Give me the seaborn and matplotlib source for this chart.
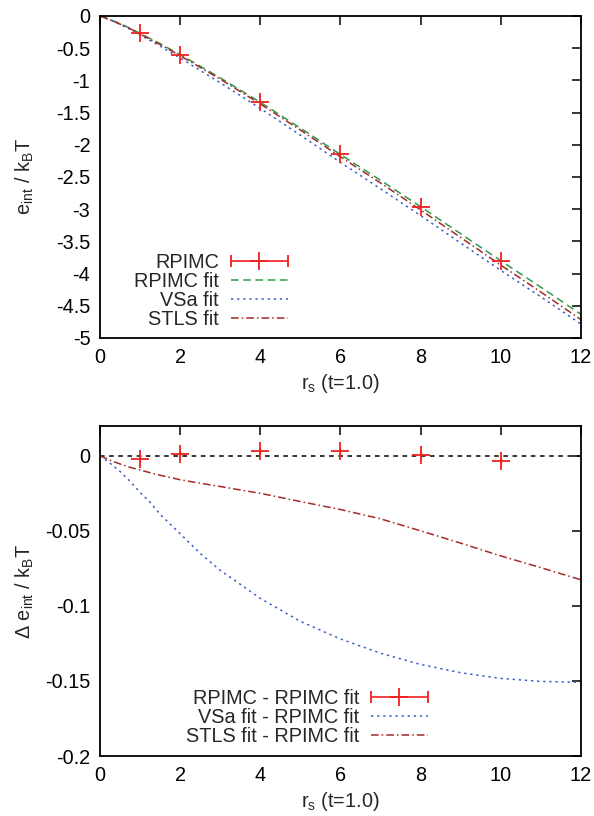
import numpy as np
import pandas as pd
import seaborn as sns
import matplotlib
matplotlib.use("Agg")
from matplotlib import pyplot as plt
from matplotlib.ticker import MultipleLocator, FuncFormatter
from matplotlib.container import ErrorbarContainer
from matplotlib.legend_handler import HandlerErrorbar

# RPIMC data points (t=1.0)
rs_points = [1, 2, 4, 6, 8, 10]
e_rpimc = [-0.27, -0.60, -1.34, -2.15, -2.96, -3.80]
e_rpimc_err = [0.002, 0.002, 0.002, 0.002, 0.002, 0.002]
de_rpimc = [-0.002, 0.001, 0.0033, 0.003, 0.0005, -0.0033]   # RPIMC - RPIMC fit

# fit curves, read on an rs grid
rs_grid = [0, 0.25, 0.5, 0.75, 1, 1.25, 1.5, 2, 2.5, 3, 3.5, 4, 5, 6, 7, 8, 9, 10, 11, 12]
e_rpimc_fit = [0, -0.055, -0.12, -0.19, -0.27, -0.35, -0.43, -0.60, -0.78, -0.96,
               -1.15, -1.34, -1.74, -2.15, -2.55, -2.96, -3.38, -3.80, -4.21, -4.63]
de_vsa = [0, -0.005, -0.0105, -0.017, -0.0245, -0.031, -0.039, -0.052, -0.065, -0.0763,
          -0.0856, -0.095, -0.1103, -0.122, -0.1315, -0.139, -0.1445, -0.1483, -0.1503, -0.1509]
de_stls = [0, -0.003, -0.0055, -0.0077, -0.0095, -0.0113, -0.013, -0.016, -0.0183, -0.0205,
           -0.0228, -0.025, -0.0305, -0.0358, -0.042, -0.050, -0.0582, -0.0667, -0.0745, -0.0826]

RED = "#f02020"
GREEN = "#2f9a4c"
BLUE = "#3c5fc8"
BROWN = "#a52a2a"
FS = 14.3


def style_axes(ax):
    ax.set_xlim(0, 12)
    ax.xaxis.set_major_locator(MultipleLocator(2))
    ax.tick_params(direction="in", length=6.5, width=1.1, top=True, right=True,
                   labelsize=FS, pad=7, colors="black")
    ax.xaxis.set_major_formatter(FuncFormatter(lambda v, p: f"{v:g}"))
    ax.yaxis.set_major_formatter(FuncFormatter(lambda v, p: f"{v:g}"))
    for s in ax.spines.values():
        s.set_linewidth(1.3)
        s.set_color("black")
    ax.set_xlabel(r"r$_s$ (t=1.0)", fontsize=FS, labelpad=4)
    ax.yaxis.set_label_coords(-0.133, 0.5)
    ax.grid(False)


def add_legend(ax, handles, labels, anchor_x, anchor_y):
    ax.legend(handles=handles, labels=labels,
              handler_map={ErrorbarContainer: HandlerErrorbar(xerr_size=1.43)},
              loc="lower right", bbox_to_anchor=(anchor_x, anchor_y), frameon=False,
              markerfirst=False, fontsize=FS, handlelength=2.86, handletextpad=0.6,
              labelspacing=0.0, borderpad=0, borderaxespad=0)


def main():
    sns.set_theme(style="white")
    plt.rcParams["font.family"] = ["Liberation Sans", "DejaVu Sans"]
    plt.rcParams["mathtext.default"] = "regular"
    plt.rcParams["axes.unicode_minus"] = False

    df = pd.DataFrame({
        "rs": rs_grid,
        "rpimc_fit": e_rpimc_fit,
        "vsa_fit": np.array(e_rpimc_fit) + np.array(de_vsa),
        "stls_fit": np.array(e_rpimc_fit) + np.array(de_stls),
        "d_vsa": de_vsa,
        "d_stls": de_stls,
    })

    fig = plt.figure(figsize=(5.94, 8.16), dpi=100)
    ax1 = fig.add_axes([0.1684, 0.5858, 0.8093, 0.3946])
    ax2 = fig.add_axes([0.1684, 0.0735, 0.8093, 0.4048])

    # top panel
    ax1.errorbar(rs_points, e_rpimc, yerr=e_rpimc_err, fmt="+", ms=13, mew=1.3,
                 color=RED, elinewidth=1.0, capsize=0, zorder=5)
    proxy1 = ax1.errorbar([np.nan], [np.nan], xerr=[1], fmt="+", ms=13, mew=1.3,
                          color=RED, elinewidth=1.2, capsize=4, label="RPIMC")
    sns.lineplot(data=df, x="rs", y="rpimc_fit", ax=ax1, color=GREEN, lw=1.1,
                 linestyle=(0, (5, 3)), label="RPIMC fit")
    sns.lineplot(data=df, x="rs", y="vsa_fit", ax=ax1, color=BLUE, lw=1.1,
                 linestyle=(0, (1.5, 2.5)), label="VSa fit")
    sns.lineplot(data=df, x="rs", y="stls_fit", ax=ax1, color=BROWN, lw=1.1,
                 linestyle=(0, (5, 2, 1, 2)), label="STLS fit")
    ax1.set_ylim(-5, 0)
    ax1.yaxis.set_major_locator(MultipleLocator(0.5))
    style_axes(ax1)
    ax1.set_ylabel(r"e$_{int}$ / k$_B$T", fontsize=FS)
    lines = ax1.get_lines()
    h1 = [proxy1] + [l for l in lines if l.get_label() in ("RPIMC fit", "VSa fit", "STLS fit")]
    add_legend(ax1, h1, ["RPIMC", "RPIMC fit", "VSa fit", "STLS fit"], 0.39, 0.028)

    # bottom panel
    ax2.axhline(0, color="black", lw=1.1, linestyle=(0, (3, 3)), zorder=1)
    ax2.errorbar(rs_points, de_rpimc, yerr=e_rpimc_err, fmt="+", ms=13, mew=1.3,
                 color=RED, elinewidth=1.0, capsize=0, zorder=5)
    proxy2 = ax2.errorbar([np.nan], [np.nan], xerr=[1], fmt="+", ms=13, mew=1.3,
                          color=RED, elinewidth=1.2, capsize=4,
                          label="RPIMC - RPIMC fit")
    sns.lineplot(data=df, x="rs", y="d_vsa", ax=ax2, color=BLUE, lw=1.1,
                 linestyle=(0, (1.5, 2.5)), label="VSa fit - RPIMC fit")
    sns.lineplot(data=df, x="rs", y="d_stls", ax=ax2, color=BROWN, lw=1.1,
                 linestyle=(0, (5, 2, 1, 2)), label="STLS fit - RPIMC fit")
    ax2.set_ylim(-0.2, 0.02)
    ax2.yaxis.set_major_locator(MultipleLocator(0.05))
    style_axes(ax2)
    ax2.set_ylabel(r"$\Delta$ e$_{int}$ / k$_B$T", fontsize=FS)
    lines2 = ax2.get_lines()
    h2 = [proxy2] + [l for l in lines2 if l.get_label() in ("VSa fit - RPIMC fit", "STLS fit - RPIMC fit")]
    add_legend(ax2, h2, ["RPIMC - RPIMC fit", "VSa fit - RPIMC fit", "STLS fit - RPIMC fit"],
               0.682, 0.03)

    fig.savefig("out.png", dpi=100)
    plt.close(fig)


if __name__ == "__main__":
    main()
